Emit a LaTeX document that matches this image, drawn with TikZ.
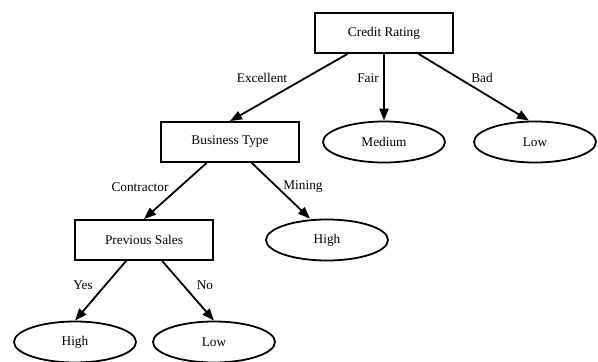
\documentclass[tikz,border=0pt]{standalone}
\usepackage{fontspec}
\setmainfont{Liberation Serif}
\usepackage{tikz}
\usetikzlibrary{arrows.meta, shapes.geometric}

\begin{document}
\begin{tikzpicture}[x=1pt, y=-1pt,
  test/.style={draw, line width=1.8pt, rectangle, minimum width=138pt, minimum height=40pt, font=\fontsize{13.3}{16}\selectfont},
  leaf/.style={draw, line width=1.8pt, ellipse, minimum width=122pt, minimum height=41pt, inner sep=0pt, font=\fontsize{13.3}{16}\selectfont},
  branch/.style={line width=1.8pt, -{Triangle[length=12pt, width=9pt]}},
  blabel/.style={font=\fontsize{13.3}{16}\selectfont}]
  \useasboundingbox (0,0) rectangle (598,362);

  % Tests
  \node[test] (credit) at (384,33) {Credit Rating};
  \node[test] (business) at (230,142) {Business Type};
  \node[test] (sales) at (144,240) {Previous Sales};

  % Leaves
  \node[leaf] (medium) at (384,142) {Medium};
  \node[leaf] (lowA) at (535,142) {Low};
  \node[leaf] (highA) at (327,240) {High};
  \node[leaf] (highB) at (75,342) {High};
  \node[leaf] (lowB) at (214,342) {Low};

  % Branches
  \draw[branch] (credit) -- (business.north);
  \draw[branch] (credit) -- (medium.north);
  \draw[branch] (credit) -- ([xshift=-6pt]lowA.north);
  \draw[branch] (business) -- (sales.north);
  \draw[branch] (business) -- ([xshift=-17pt]highA.north);
  \draw[branch] (sales) -- (highB.north);
  \draw[branch] (sales) -- (lowB.north);

  % Branch labels
  \node[blabel] (excellent) at (262,78) {Excellent};
  \node[blabel] (fair) at (368,78) {Fair};
  \node[blabel] (bad) at (482,78) {Bad};
  \node[blabel] (contractor) at (140,187) {Contractor};
  \node[blabel] (mining) at (303,187) {Mining};
  \node[blabel] (yes) at (83,285) {Yes};
  \node[blabel] (no) at (205,285) {No};
\end{tikzpicture}
\end{document}
